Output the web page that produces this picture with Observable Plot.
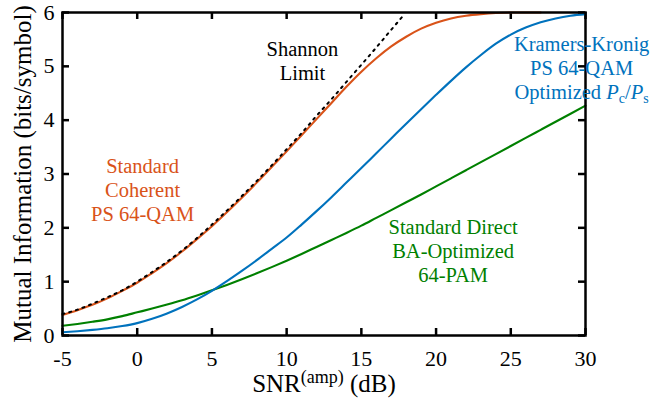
<!DOCTYPE html>
<html><head><meta charset="utf-8">
<script src="https://cdn.jsdelivr.net/npm/d3@7"></script>
<script src="https://cdn.jsdelivr.net/npm/@observablehq/plot@0.6"></script>
<style>
body{margin:0;background:#fff}
#chart svg{display:block}
</style>
</head><body><div id="chart"></div>
<script>
// SNR grid (dB)
const snrDb = [-5,-4,-3,-2,-1,0,1,2,3,4,5,6,7,8,9,10,11,12,13,14,15,16,17,18,19,20,21,22,23,24,25,26,27,28,29,30];
// Kramers-Kronig PS 64-QAM, optimized Pc/Ps (blue)
const kkMI = [0.06,0.08,0.105,0.135,0.175,0.23,0.31,0.41,0.53,0.67,0.83,1.01,1.20,1.40,1.61,1.82,2.06,2.31,2.57,2.84,3.11,3.385,3.66,3.935,4.205,4.47,4.73,4.98,5.21,5.42,5.59,5.72,5.82,5.89,5.94,5.97];
// Standard direct BA-optimized 64-PAM (green)
const directMI = [0.18,0.215,0.255,0.30,0.36,0.43,0.50,0.575,0.655,0.745,0.84,0.94,1.045,1.155,1.27,1.39,1.515,1.645,1.775,1.905,2.04,2.185,2.33,2.475,2.62,2.77,2.92,3.07,3.22,3.37,3.52,3.67,3.82,3.97,4.12,4.27];
// Standard coherent PS 64-QAM (orange)
const snrCoherent = [-5,-4,-3,-2,-1,0,1,2,3,4,5,6,7,8,9,10,11,12,13,14,15,16,17,18,19,20,21,22,23,24,25,26,27];
const coherentMI = [0.38,0.47,0.57,0.69,0.83,0.98,1.16,1.35,1.56,1.79,2.03,2.29,2.56,2.84,3.13,3.42,3.72,4.02,4.32,4.62,4.90,5.15,5.37,5.55,5.70,5.81,5.89,5.94,5.97,5.99,6.00,6.00,6.00];
// Shannon limit (dotted)
const snrShannon = [-5,-4,-3,-2,-1,0,1,2,3,4,5,6,7,8,9,10,11,12,13,14,15,16,17,17.8];
const shannonMI = [0.40,0.48,0.59,0.71,0.84,1.00,1.18,1.37,1.58,1.81,2.06,2.32,2.59,2.87,3.16,3.46,3.76,4.08,4.39,4.71,5.03,5.35,5.68,5.94];

const xTicks = [-5,0,5,10,15,20,25,30];
const yTicks = [0,1,2,3,4,5,6];

// annotations
const noteText = ["Shannon\nLimit", "Standard\nCoherent\nPS 64-QAM", "Kramers-Kronig\nPS 64-QAM\nOptimized Pc/Ps", "Standard Direct\nBA-Optimized\n64-PAM"];
const noteSnr = [11.06, 0.36, 29.74, 21.14];
const noteMI = [5.12, 2.71, 4.98, 1.58];
const noteColor = ["#000000", "#d95319", "#0072bd", "#008000"];

const xLabel = "SNR(amp) (dB)";
const yLabel = "Mutual Information (bits/symbol)";

const serif = "Liberation Serif";
const notes = noteText.map((t, i) => ({t, x: noteSnr[i], y: noteMI[i], c: noteColor[i]}));

const W = 651, H = 408, ML = 62, MR = 66, MT = 12, MB = 73, TICK = 7;
const innerW = W - ML - MR, innerH = H - MT - MB;

const chart = Plot.plot({
  width: W, height: H,
  marginLeft: ML, marginRight: MR, marginTop: MT, marginBottom: MB,
  style: {fontFamily: serif, background: "#fff", color: "#000", overflow: "visible"},
  x: {domain: [-5, 30], label: null},
  y: {domain: [0, 6], label: null},
  marks: [
    Plot.axisX(xTicks, {anchor: "bottom", tickSize: 0, tickPadding: 15, fontSize: 22, fontFamily: serif, tickFormat: d => String(d), label: null}),
    Plot.axisY(yTicks, {anchor: "left", tickSize: 0, tickPadding: 8, fontSize: 22, fontFamily: serif, tickFormat: d => String(d), label: null}),
    // inward ticks on all four sides
    Plot.tickX(xTicks, {x: d => d, insetTop: innerH - TICK, strokeWidth: 2.5}),
    Plot.tickX(xTicks, {x: d => d, insetBottom: innerH - TICK, strokeWidth: 2.5}),
    Plot.tickY(yTicks, {y: d => d, insetRight: innerW - TICK, strokeWidth: 2.5}),
    Plot.tickY(yTicks, {y: d => d, insetLeft: innerW - TICK, strokeWidth: 2.5}),
    Plot.line(snrDb, {x: snrDb, y: directMI, stroke: "#008000", strokeWidth: 2.1, curve: "monotone-x"}),
    Plot.line(snrDb, {x: snrDb, y: kkMI, stroke: "#0072bd", strokeWidth: 2.1, curve: "monotone-x"}),
    Plot.line(snrCoherent, {x: snrCoherent, y: coherentMI, stroke: "#d95319", strokeWidth: 2.1, curve: "monotone-x"}),
    Plot.line(snrShannon, {x: snrShannon, y: shannonMI, stroke: "#000", strokeWidth: 2, strokeDasharray: "2 5", curve: "monotone-x"}),
    Plot.frame({strokeWidth: 2.5}),
    Plot.text(notes, {x: "x", y: "y", text: "t", fill: "c", fontSize: 20.5, fontFamily: serif, lineHeight: 1.17, textAnchor: "middle"}),
    Plot.text([xLabel], {frameAnchor: "bottom", text: d => d, dy: 56, fontSize: 25, fontFamily: serif, textAnchor: "middle"}),
    Plot.text([yLabel], {frameAnchor: "left", text: d => d, rotate: -90, dx: -40, fontSize: 25, fontFamily: serif, textAnchor: "middle"})
  ]
});
document.getElementById("chart").appendChild(chart);

// rich-text touches: superscript and italic/subscript
const NS = "http://www.w3.org/2000/svg";
function span(parent, txt, attrs = {}) {
  const s = document.createElementNS(NS, "tspan");
  for (const k in attrs) s.setAttribute(k, attrs[k]);
  s.textContent = txt;
  parent.appendChild(s);
  return s;
}
chart.querySelectorAll("text, tspan").forEach(el => {
  if (el.children.length) return;
  if (el.textContent === xLabel) {
    el.textContent = "";
    span(el, "SNR");
    span(el, "(amp)", {dy: -9, "font-size": "18px"});
    span(el, " (dB)", {dy: 9});
  } else if (el.textContent === "Optimized Pc/Ps") {
    el.textContent = "";
    el.appendChild(document.createTextNode("Optimized "));
    span(el, "P", {"font-style": "italic"});
    span(el, "c", {dy: 4, "font-size": "14px"});
    span(el, "/", {dy: -4});
    span(el, "P", {"font-style": "italic"});
    span(el, "s", {dy: 4, "font-size": "14px"});
  }
});
</script>
</body></html>
